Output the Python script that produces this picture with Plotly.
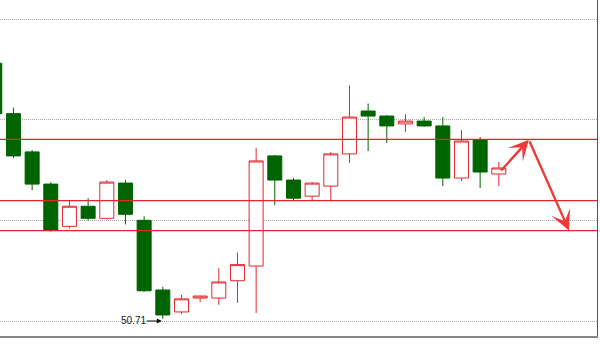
import plotly.graph_objects as go

# ---- data ----
idx = list(range(28))
open_ = [51.98, 51.73, 51.54, 51.38, 51.17, 51.27, 51.21, 51.385, 51.20, 50.854,
         50.745, 50.814, 50.814, 50.90, 50.973, 51.52, 51.40, 51.32, 51.37, 51.53,
         51.743, 51.718, 51.679, 51.693, 51.669, 51.41, 51.599, 51.43]
high = [51.99, 51.76, 51.55, 51.39, 51.30, 51.31, 51.40, 51.40, 51.22, 50.87,
        50.83, 50.825, 50.963, 51.04, 51.56, 51.525, 51.41, 51.39, 51.54, 51.87,
        51.78, 51.723, 51.728, 51.713, 51.713, 51.649, 51.614, 51.49]
low = [51.72, 51.51, 51.35, 51.145, 51.16, 51.20, 51.205, 51.18, 50.845, 50.71,
       50.735, 50.794, 50.78, 50.79, 50.74, 51.276, 51.30, 51.296, 51.30, 51.485,
       51.544, 51.584, 51.639, 51.664, 51.37, 51.395, 51.36, 51.37]
close = [51.73, 51.52, 51.38, 51.15, 51.27, 51.21, 51.39, 51.23, 50.85, 50.73,
         50.81, 50.824, 50.894, 50.98, 51.495, 51.40, 51.31, 51.385, 51.53, 51.713,
         51.718, 51.669, 51.693, 51.669, 51.41, 51.594, 51.44, 51.46]

grid_levels = [50.70, 51.20, 51.70, 52.20]
level_lines = [51.6025, 51.2975, 51.1485]

low_label = "50.71"
low_label_idx = 9
low_label_value = 50.71

arrow_x = [27.05, 28.61, 30.76]
arrow_y = [51.44, 51.60, 51.15]

RED = "#e3262b"
GREEN = "#006400"

fig = go.Figure()
fig.add_trace(go.Candlestick(
    x=idx, open=open_, high=high, low=low, close=close,
    increasing=dict(line=dict(color=RED, width=1), fillcolor="#ffffff"),
    decreasing=dict(line=dict(color=GREEN, width=1), fillcolor=GREEN),
    whiskerwidth=0, showlegend=False, hoverinfo="skip",
))

shapes = []
for lv in level_lines:
    shapes.append(dict(type="line", xref="paper", x0=0, x1=1, yref="y", y0=lv, y1=lv,
                       line=dict(color=RED, width=1.2), layer="above"))

annotations = []
for i in range(len(arrow_x) - 1):
    annotations.append(dict(
        x=arrow_x[i + 1], y=arrow_y[i + 1], ax=arrow_x[i], ay=arrow_y[i],
        xref="x", yref="y", axref="x", ayref="y", text="",
        showarrow=True, arrowhead=3, arrowsize=1.4, arrowwidth=2.4,
        arrowcolor="#f03a3a", standoff=0,
    ))
annotations.append(dict(
    x=low_label_idx, y=low_label_value, xref="x", yref="y",
    ax=-29, ay=0, text=low_label, showarrow=True, yshift=-2,
    arrowhead=2, arrowsize=1, arrowwidth=1, arrowcolor="#111111",
    font=dict(family="Liberation Sans, Arial", size=10, color="#1a1a2a"),
    standoff=1, borderpad=0,
))

fig.update_layout(
    width=600, height=354,
    margin=dict(l=0, r=3, t=0, b=18),
    paper_bgcolor="white", plot_bgcolor="white",
    shapes=shapes, annotations=annotations,
    boxgap=0.25, boxgroupgap=0,
    xaxis=dict(range=[0.279, 32.26], showgrid=False, zeroline=False,
               showticklabels=False, ticks="", showline=True,
               linecolor="#888888", linewidth=1.5,
               rangeslider=dict(visible=False)),
    yaxis=dict(range=[50.6255, 52.2944], side="right", tickvals=grid_levels,
               showticklabels=False, ticks="", showgrid=True,
               gridcolor="#aaaaaa", griddash="1px,1px", gridwidth=1,
               zeroline=False, showline=True, linecolor="#555555", linewidth=1),
)

fig.write_html("out.html")
